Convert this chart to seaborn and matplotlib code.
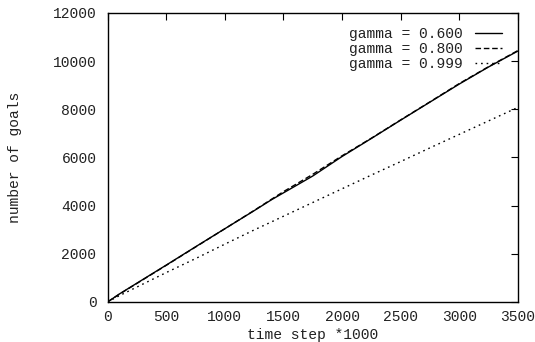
import matplotlib
matplotlib.use("Agg")
import matplotlib.pyplot as plt
import seaborn as sns
import pandas as pd

steps = [0, 100, 250, 500, 750, 1000, 1250, 1400, 1500, 1750, 2000, 2250, 2500, 2750, 3000, 3250, 3500]
goals_060 = [0, 330, 780, 1530, 2290, 3040, 3790, 4250, 4530, 5230, 6040, 6790, 7550, 8300, 9050, 9760, 10420]
goals_080 = [0, 320, 770, 1520, 2280, 3040, 3800, 4270, 4580, 5300, 6070, 6800, 7560, 8310, 9070, 9770, 10440]
goals_0999 = [0, 260, 620, 1220, 1800, 2400, 2990, 3330, 3560, 4130, 4700, 5270, 5830, 6400, 6960, 7520, 8080]
labels = ["gamma = 0.600", "gamma = 0.800", "gamma = 0.999"]

df = pd.concat([
    pd.DataFrame({"step": steps, "goals": goals_060, "series": labels[0]}),
    pd.DataFrame({"step": steps, "goals": goals_080, "series": labels[1]}),
    pd.DataFrame({"step": steps, "goals": goals_0999, "series": labels[2]}),
])

sns.set_theme(style="white")
plt.rcParams["font.family"] = ["Liberation Mono", "DejaVu Sans Mono"]

fig = plt.figure(figsize=(5.35, 3.42), dpi=100)
ax = fig.add_axes([0.201, 0.117, 0.767, 0.845])

sns.lineplot(data=df, x="step", y="goals", hue="series", style="series",
             palette={l: "black" for l in labels},
             dashes={labels[0]: "", labels[1]: (4, 2), labels[2]: (1.2, 2.8)},
             linewidth=1.0, ax=ax, legend=True)

ax.set_xlim(0, 3500)
ax.set_ylim(0, 12000)
ax.set_xticks(range(0, 3501, 500))
ax.set_yticks(range(0, 12001, 2000))
ax.tick_params(direction="in", length=5, width=0.8, top=True, right=True,
               labelsize=10.5, colors="black", labelcolor="#222222")
ax.tick_params(axis="y", pad=8)
ax.tick_params(axis="x", pad=5.5)
for s in ax.spines.values():
    s.set_color("black")
    s.set_linewidth(1.0)

ax.set_xlabel("time step *1000", fontsize=10.5, color="#222222", labelpad=3)
ax.set_ylabel("number of goals", fontsize=10.5, color="#222222", labelpad=22)

handles, lbls = ax.get_legend_handles_labels()
ax.legend(handles, lbls, loc="upper right", bbox_to_anchor=(0.975, 0.971),
          frameon=False, markerfirst=False,
          fontsize=10.5, handlelength=1.85, handletextpad=0.85, labelspacing=0.05,
          borderaxespad=0.0, labelcolor="#222222")

fig.savefig("out.png", dpi=100, facecolor="white")
